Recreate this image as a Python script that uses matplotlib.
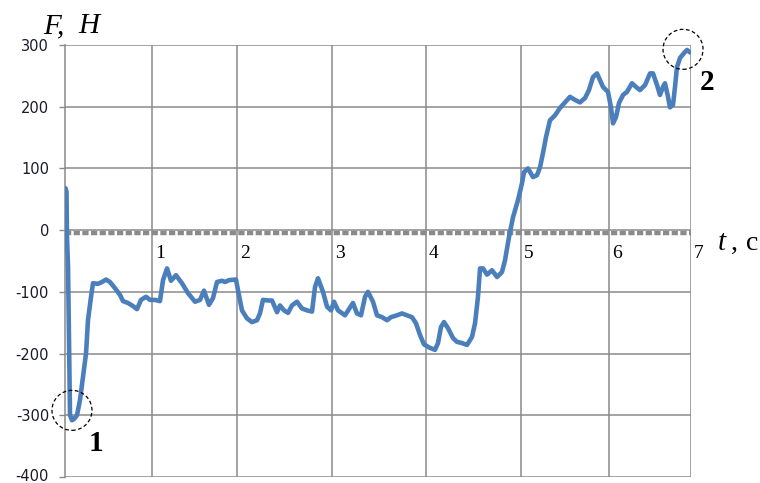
import matplotlib
matplotlib.use("Agg")
import matplotlib.pyplot as plt
import matplotlib.transforms as mtransforms
from matplotlib.patches import Ellipse
import numpy as np

# Time (s) and force (N) samples of the recorded load curve
t_s = [0.006, 0.017, 0.022, 0.034, 0.045, 0.056, 0.078, 0.101, 0.134, 0.168,
       0.201, 0.235, 0.257, 0.291, 0.313, 0.369, 0.414, 0.458, 0.503, 0.559,
       0.615, 0.649, 0.704, 0.760, 0.805, 0.850, 0.906, 0.950, 1.006, 1.062,
       1.096, 1.141, 1.185, 1.241, 1.308, 1.375, 1.454, 1.510, 1.554, 1.610,
       1.655, 1.700, 1.756, 1.789, 1.834, 1.912, 1.934, 1.979, 2.035, 2.091,
       2.147, 2.180, 2.214, 2.270, 2.315, 2.371, 2.404, 2.449, 2.494, 2.538,
       2.594, 2.650, 2.706, 2.762, 2.796, 2.829, 2.885, 2.930, 2.974, 3.008,
       3.053, 3.131, 3.220, 3.265, 3.310, 3.355, 3.388, 3.444, 3.489, 3.545,
       3.601, 3.645, 3.712, 3.768, 3.824, 3.880, 3.925, 3.970, 4.014, 4.070,
       4.137, 4.171, 4.204, 4.238, 4.283, 4.339, 4.383, 4.439, 4.495, 4.551,
       4.585, 4.618, 4.641, 4.674, 4.719, 4.775, 4.831, 4.886, 4.920, 4.965,
       5.010, 5.066, 5.110, 5.133, 5.177, 5.233, 5.278, 5.312, 5.345, 5.379,
       5.423, 5.479, 5.535, 5.591, 5.647, 5.703, 5.759, 5.815, 5.859, 5.904,
       5.949, 5.982, 6.016, 6.072, 6.105, 6.128, 6.161, 6.195, 6.240, 6.284,
       6.340, 6.385, 6.430, 6.486, 6.542, 6.575, 6.620, 6.653, 6.687, 6.709,
       6.743, 6.765, 6.799, 6.821, 6.843, 6.877, 6.922, 6.955, 6.989]
force_n = [68, 62, -10, -60, -178, -300, -308, -306, -300, -275,
           -238, -200, -146, -108, -86, -87, -84, -80, -84, -94,
           -105, -115, -118, -123, -128, -113, -108, -113, -113, -115,
           -81, -62, -82, -73, -86, -102, -116, -113, -98, -121,
           -110, -84, -82, -84, -81, -80, -97, -130, -143, -149,
           -146, -135, -113, -114, -114, -133, -122, -130, -134, -122,
           -116, -127, -130, -132, -92, -78, -100, -124, -130, -116,
           -130, -138, -118, -135, -138, -108, -100, -116, -138, -141,
           -146, -141, -138, -135, -138, -141, -151, -170, -185, -190,
           -194, -183, -157, -149, -159, -175, -181, -183, -186, -173,
           -151, -108, -62, -62, -72, -65, -76, -68, -49, -11,
           21, 49, 76, 94, 100, 86, 89, 102, 125, 151,
           178, 186, 198, 207, 216, 211, 207, 214, 227, 248,
           254, 243, 232, 224, 199, 173, 183, 206, 219, 224,
           238, 232, 227, 235, 254, 254, 235, 219, 232, 238,
           216, 199, 203, 232, 264, 279, 287, 292, 288]

# Vertical grid lines and their labels
grid_t = [0.973, 1.923, 2.986, 4.037, 5.099, 6.083, 7.0]
grid_labels = ["1", "2", "3", "4", "5", "6", "7"]
y_ticks = [-400, -300, -200, -100, 0, 100, 200, 300]

# Marked points: (label, circle centre t, circle centre F)
marks = [("1", 0.078, -292), ("2", 6.911, 293)]

W, H = 760, 483
fig = plt.figure(figsize=(W / 100, H / 100), dpi=100)
ax = fig.add_axes([65 / W, 1 - 477 / H, 626 / W, 432 / H])
ax.set_xlim(0, 7)
ax.set_ylim(-400, 300)

grid_col = "#8a8a8a"
for g in grid_t:
    ax.axvline(g, color=grid_col, lw=1.1, zorder=1)
for y in y_ticks:
    ax.axhline(y, color=grid_col, lw=1.1, zorder=1)

for s in ["top", "right", "bottom"]:
    ax.spines[s].set_visible(False)
ax.spines["left"].set_color(grid_col)
ax.spines["left"].set_linewidth(1.1)

ax.set_xticks([])
ax.set_yticks(y_ticks)
ax.set_yticklabels([str(v) for v in y_ticks], fontsize=10.5,
                   family="DejaVu Sans", color="#1a1a2a")
ax.tick_params(axis="y", direction="out", length=4.5, width=1.0,
               color=grid_col, pad=7)
# keep the lowest label inside the canvas
low = ax.get_yticklabels()[0]
low.set_transform(low.get_transform() +
                  mtransforms.ScaledTranslation(0, 2 / 100, fig.dpi_scale_trans))

# Horizontal axis at F = 0 with cross minor tick marks
ax.plot([0, 7], [-4, -4], color=grid_col, lw=3.2,
        dashes=(1.4, 0.55), solid_capstyle="butt", zorder=2)

ax.plot(t_s, force_n, color="#4b7fbc", lw=3.3, zorder=3,
        solid_joinstyle="round", solid_capstyle="round")

for g, lab in zip(grid_t, grid_labels):
    ax.annotate(lab, xy=(g, 0), xytext=(3, -15), textcoords="offset pixels",
                ha="left", va="top", fontsize=14, family="Liberation Serif",
                color="black", annotation_clip=False)

# Circled points
px_t = 7 / 626
px_f = 700 / 432
for lab, ct, cf in marks:
    ax.add_patch(Ellipse((ct, cf), 40 * px_t, 40 * px_f, fill=False,
                         ec="black", lw=0.9, ls=(0, (3, 2)), clip_on=False,
                         zorder=4))
    ax.annotate(lab, xy=(ct, cf), xytext=(17, -41), textcoords="offset pixels",
                ha="left", va="baseline", fontsize=21, fontweight="bold",
                family="Liberation Serif", annotation_clip=False)

# Axis titles
title_kw = dict(family="Liberation Serif", ha="left", va="baseline")
fig.text(43 / W, 1 - 33 / H, "F,", fontsize=21, style="italic", **title_kw)
fig.text(78 / W, 1 - 33 / H, "Н", fontsize=21, style="italic", **title_kw)
fig.text(718 / W, 1 - 250 / H, "t", fontsize=21, style="italic", **title_kw)
fig.text(731 / W, 1 - 250 / H, ",", fontsize=20, **title_kw)
fig.text(746 / W, 1 - 250 / H, "с", fontsize=20, **title_kw)

fig.savefig("out.png", dpi=100)
